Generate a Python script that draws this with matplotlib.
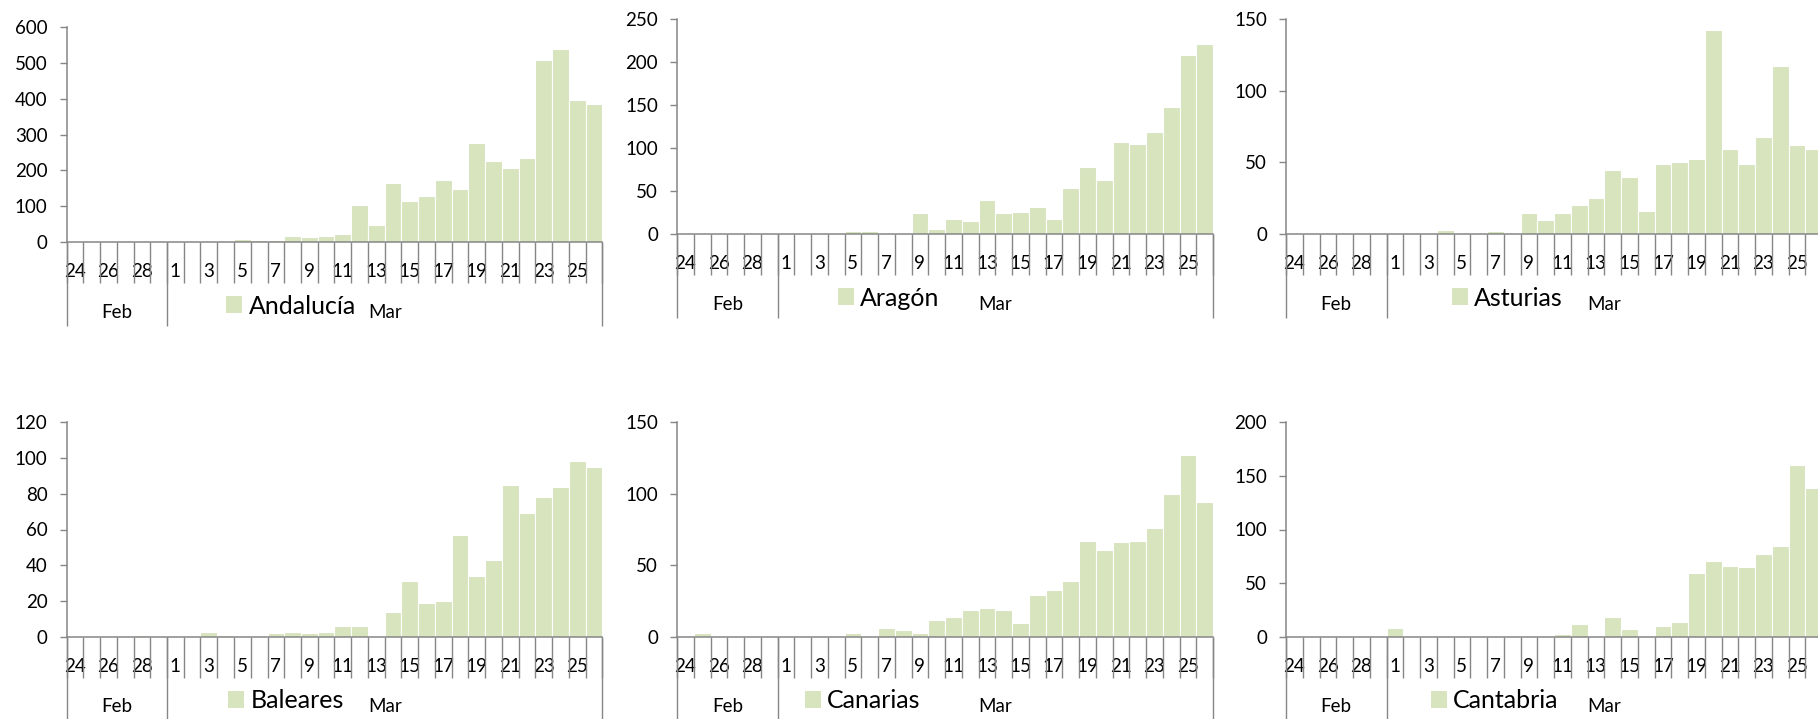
import matplotlib
matplotlib.use("Agg")
import matplotlib.pyplot as plt
from matplotlib.patches import Patch

plt.rcParams['font.family'] = ['Lato', 'DejaVu Sans']

# days: 24-29 Feb, 1-26 Mar
feb_days = [24, 25, 26, 27, 28, 29]
mar_days = list(range(1, 27))
day_labels = [str(d) for d in feb_days + mar_days]

regions = ["Andalucía", "Aragón", "Asturias", "Baleares", "Canarias", "Cantabria"]

andalucia = [0, 0, 0, 4, 0, 2,
             0, 0, 0, 0, 8, 5, 6, 18, 14, 16, 22, 102, 48, 166, 115, 127, 174, 147,
             277, 227, 207, 234, 508, 538, 395, 385]
aragon = [0, 0, 0, 0, 0, 0,
          0, 0, 0, 0, 4, 4, 0, 1, 24, 6, 18, 15, 40, 25, 26, 31, 18, 54,
          78, 63, 107, 105, 119, 148, 208, 221]
asturias = [0, 0, 0, 0, 0, 1,
            0, 0, 1, 3, 0, 0, 2, 0, 15, 10, 15, 20, 25, 45, 40, 16, 49, 50,
            52, 142, 59, 49, 68, 117, 62, 59]
baleares = [0, 0, 0, 0, 1, 0,
            0, 0, 3, 1, 0, 0, 2, 3, 2, 3, 6, 6, 0, 14, 31, 19, 20, 57,
            34, 43, 85, 69, 78, 84, 98, 95]
canarias = [1, 3, 1, 0, 0, 1,
            0, 0, 0, 1, 3, 0, 6, 5, 3, 12, 14, 19, 20, 19, 10, 29, 33, 39,
            67, 61, 66, 67, 76, 100, 127, 94]
cantabria = [0, 0, 0, 0, 0, 0,
             8, 0, 0, 0, 0, 0, 1, 0, 0, 0, 3, 12, 1, 19, 7, 0, 10, 14,
             60, 71, 66, 65, 77, 85, 160, 139]

series = [andalucia, aragon, asturias, baleares, canarias, cantabria]
y_max = [600, 250, 150, 120, 150, 200]
y_step = [100, 50, 50, 20, 50, 50]

GREEN = '#D7E4BD'
GRAY = '#868686'
FS = 13.5

W, H = 1818, 719
fig = plt.figure(figsize=(W / 100, H / 100), dpi=100)

col_left = [66.5, 677, 1286]
zero_px = [242, 234, 234, 637, 637, 637]
legend_x = [0.298, 0.300, 0.310, 0.302, 0.239, 0.270]
ax_w, ax_h = 536, 215

for k, (name, vals) in enumerate(zip(regions, series)):
    left = col_left[k % 3] / W
    bottom = 1 - zero_px[k] / H
    ax = fig.add_axes([left, bottom, ax_w / W, ax_h / H])
    n = len(vals)
    x = list(range(n))
    ax.bar(x, vals, width=1.0, color=GREEN, edgecolor='white', linewidth=0.8)
    ax.set_xlim(-0.5, n - 0.5)
    ax.set_ylim(0, y_max[k])
    ax.set_yticks(range(0, y_max[k] + 1, y_step[k]))

    ax.set_xticks(x[::2])
    ax.set_xticklabels(day_labels[::2])
    ax.set_xticks([i - 0.5 for i in range(n + 1)], minor=True)
    ax.tick_params(axis='x', which='major', length=0, pad=15, labelsize=FS)
    ax.tick_params(axis='x', which='minor', length=29.5, width=1, color=GRAY, direction='out')
    ax.tick_params(axis='y', length=4.7, width=1, color=GRAY, pad=9, labelsize=FS)

    for s in ['top', 'right']:
        ax.spines[s].set_visible(False)
    for s in ['left', 'bottom']:
        ax.spines[s].set_color(GRAY)
        ax.spines[s].set_linewidth(1.1)

    # month group separators and labels
    trans = ax.get_xaxis_transform()
    nfeb = len(feb_days)
    ax.vlines([-0.5, nfeb - 0.5, n - 0.5], 0, -84 / ax_h, transform=trans,
              colors=GRAY, lw=1, clip_on=False)
    ax.text((nfeb - 1) / 2, -70 / ax_h, 'Feb', transform=trans,
            ha='center', va='center', fontsize=FS)
    ax.text((nfeb - 1 + n) / 2, -70 / ax_h, 'Mar', transform=trans,
            ha='center', va='center', fontsize=FS)

    ax.legend([Patch(facecolor=GREEN)], [name], loc='center left',
              bbox_to_anchor=(legend_x[k], -64 / ax_h), frameon=False, fontsize=18,
              handlelength=0.64, handleheight=0.64, handletextpad=0.25,
              borderpad=0, borderaxespad=0)

fig.savefig('out.png', dpi=100)
